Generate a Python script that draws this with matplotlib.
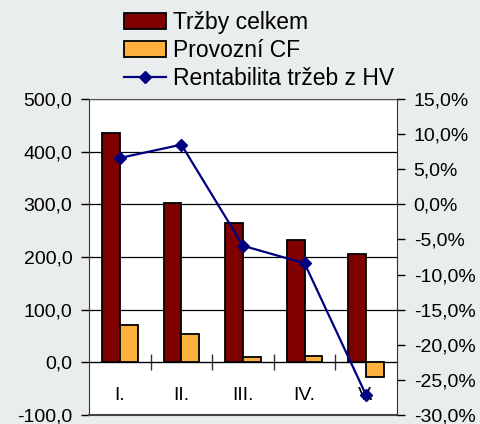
import matplotlib
matplotlib.use("Agg")
import matplotlib.pyplot as plt
from matplotlib.ticker import FuncFormatter, FixedLocator
import numpy as np

plt.rcParams['font.family'] = ['Liberation Sans', 'DejaVu Sans']

categories = ["I.", "II.", "III.", "IV.", "V."]
trzby = [435, 302, 264, 232, 206]
provozni_cf = [71, 54, 11, 12, -28]
rentabilita = [6.6, 8.5, -5.9, -8.4, -27.2]

left_ticks = [-100, 0, 100, 200, 300, 400, 500]
right_ticks = [-30, -25, -20, -15, -10, -5, 0, 5, 10, 15]

fig = plt.figure(figsize=(4.81, 4.24), dpi=100)
fig.patch.set_facecolor('#E9EDEE')
ax = fig.add_axes([89/481, 9/424, 308/481, 316/424])
ax.set_facecolor('white')

x = np.arange(len(categories))
w = 0.29
b1 = ax.bar(x - w, trzby, width=w, align='edge', color='#800000',
            edgecolor='black', linewidth=1.3, label='Tržby celkem', zorder=3)
b2 = ax.bar(x, provozni_cf, width=w, align='edge', color='#FFB13D',
            edgecolor='black', linewidth=1.3, label='Provozní CF', zorder=3)

ax.set_xlim(-0.5, len(categories) - 0.5)
ax.set_ylim(-100, 500)
ax.yaxis.set_major_locator(FixedLocator(left_ticks))
ax.yaxis.set_major_formatter(FuncFormatter(lambda v, p: f"{v:.1f}".replace('.', ',')))
ax.grid(axis='y', color='black', linewidth=0.9, zorder=1)
ax.set_axisbelow(True)

ax.spines['bottom'].set_position(('data', 0))
ax.spines['bottom'].set_color('black')
ax.spines['top'].set_color('#555555')
ax.spines['left'].set_color('#333333')
ax.spines['right'].set_visible(False)
ax.axhline(-100, color='#444444', linewidth=1.5, clip_on=False, zorder=4)

ax.set_xticks(x)
ax.set_xticklabels(categories)
ax.set_xticks(x[:-1] + 0.5, minor=True)
ax.tick_params(axis='x', which='major', length=0, pad=18, labelsize=14)
ax.tick_params(axis='x', which='minor', direction='inout', length=12,
               width=1.0, color='#333333')
ax.tick_params(axis='y', which='major', direction='out', length=6, width=1.0,
               pad=6, labelsize=14)

ax2 = ax.twinx()
ax2.set_ylim(-30, 15)
ax2.yaxis.set_major_locator(FixedLocator(right_ticks))
ax2.yaxis.set_major_formatter(FuncFormatter(lambda v, p: f"{v:.1f}".replace('.', ',') + "%"))
ax2.tick_params(axis='y', direction='out', length=6, width=1.0, pad=6, labelsize=14)
for s in ['top', 'bottom', 'left']:
    ax2.spines[s].set_visible(False)
ax2.spines['right'].set_color('#333333')
l1, = ax2.plot(x, rentabilita, color='#000080', linewidth=1.6, marker='D',
               markersize=6.5, label='Rentabilita tržeb z HV', zorder=5, clip_on=False)

handles = [b1, b2, l1]
labels = [h.get_label() for h in handles]
fig.legend(handles, labels, loc='upper left', bbox_to_anchor=(124/481, 1 - 11/424),
           frameon=False, fontsize=16.5, handlelength=1.85, handletextpad=0.3,
           labelspacing=0.22, borderpad=0, borderaxespad=0)

fig.savefig('out.png', dpi=100, facecolor=fig.get_facecolor())
